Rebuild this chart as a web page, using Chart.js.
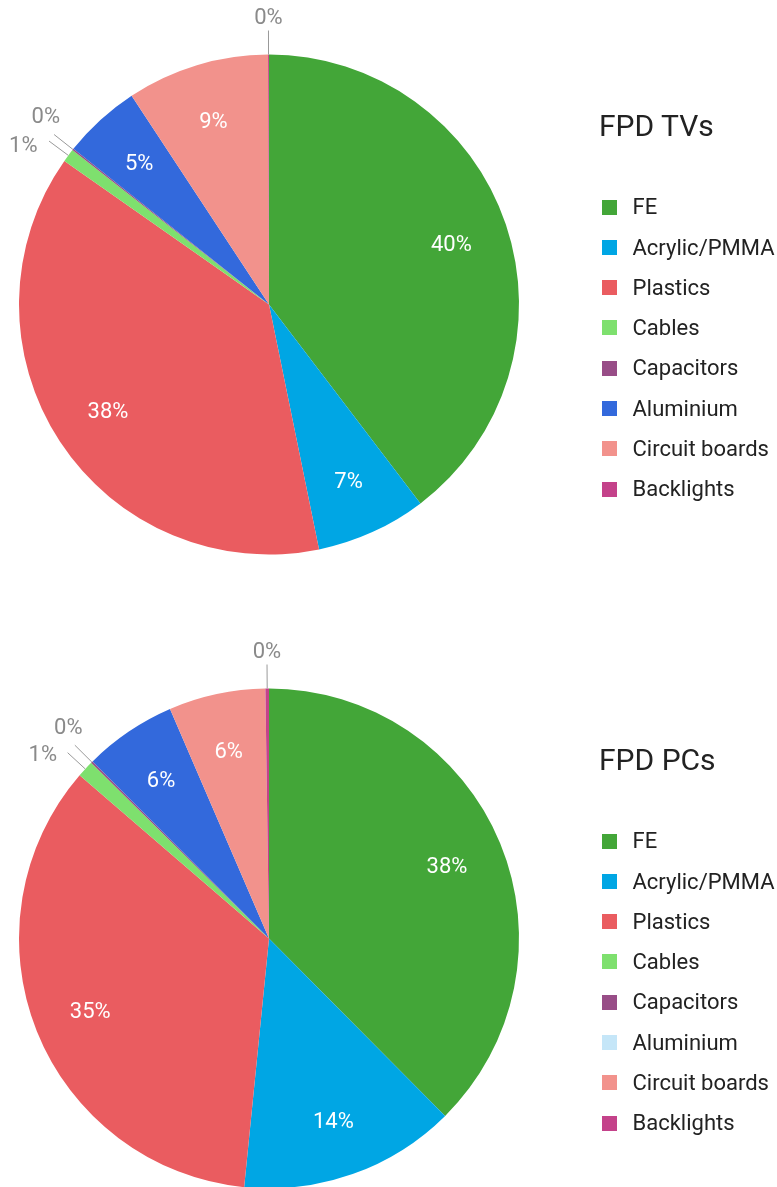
<!DOCTYPE html>
<html>
<head>
<meta charset="utf-8">
<script src="https://cdn.jsdelivr.net/npm/chart.js@4.4.1/dist/chart.umd.min.js"></script>
<style>
  html, body { margin:0; padding:0; background:#ffffff; }
  #page { position:relative; width:777px; height:1187px; overflow:hidden; background:#fff; font-family: Roboto, "Noto Sans", sans-serif; }
  .block { position:absolute; left:0; width:777px; height:634px; }
  .block canvas { position:absolute; left:0; top:0; }
  .ltitle { position:absolute; font-size:30px; line-height:36px; color:#222; white-space:nowrap; }
  .lbox { position:absolute; width:15px; height:15px; }
  .ltext { position:absolute; font-size:22px; line-height:26px; color:#222; white-space:nowrap; }
</style>
</head>
<body>
<div id="page">
  <div class="block" id="blockTV" style="top:0px;"><canvas id="tv" width="777" height="634"></canvas></div>
  <div class="block" id="blockPC" style="top:634px;"><canvas id="pc" width="777" height="634"></canvas></div>
</div>
<script>
// ---- data ----
const categories = ['FE', 'Acrylic/PMMA', 'Plastics', 'Cables', 'Capacitors', 'Aluminium', 'Circuit boards', 'Backlights'];
const tvTitle = 'FPD TVs';
const tvValues = [39.64, 7.15, 37.95, 0.86, 0.10, 5.04, 9.20, 0.06];
const pcTitle = 'FPD PCs';
const pcValues = [37.56, 14.03, 34.74, 1.08, 0.13, 5.99, 6.25, 0.23];

// ---- styles ----
const sliceColors = ['#43a638', '#00a6e4', '#ea5c60', '#7ee06e', '#984d87', '#3369dc', '#f2928c', '#c4428a'];
const pcLegendColors = ['#43a638', '#00a6e4', '#ea5c60', '#7ee06e', '#984d87', '#c5e6f8', '#f2928c', '#c4428a'];

const FONT = 'Roboto, "Noto Sans", sans-serif';

const labelPlugin = {
  id: 'pieLabels',
  afterDatasetsDraw(chart) {
    const ctx = chart.ctx;
    const ds = chart.data.datasets[0];
    const total = ds.data.reduce((a, b) => a + b, 0);
    const meta = chart.getDatasetMeta(0);
    const fs = 22;
    const capH = 0.711 * fs;
    ctx.save();
    ctx.font = fs + 'px ' + FONT;
    ctx.textAlign = 'center';
    ctx.textBaseline = 'alphabetic';
    const outside = [];
    meta.data.forEach((arc, i) => {
      const p = arc.getProps(['x', 'y', 'startAngle', 'endAngle', 'outerRadius'], true);
      const pct = ds.data[i] / total * 100;
      const text = Math.round(pct) + '%';
      const mid = (p.startAngle + p.endAngle) / 2;
      if (pct >= 2) {
        const r = p.outerRadius * 0.77;
        const x = p.x + Math.cos(mid) * r;
        const y = p.y + Math.sin(mid) * r;
        ctx.fillStyle = '#ffffff';
        ctx.fillText(text, x, y + capH / 2);
      } else {
        outside.push({ text, mid, p, ang: mid });
      }
    });
    // spread overlapping outside labels
    const minSep = 7.2 * Math.PI / 180;
    const bias = -0.2 * Math.PI / 180;
    outside.sort((a, b) => a.mid - b.mid);
    let groups = [];
    outside.forEach(o => {
      const g = groups[groups.length - 1];
      if (g && o.mid - g[g.length - 1].mid < minSep) g.push(o); else groups.push([o]);
    });
    groups.forEach(g => {
      if (g.length < 2) return;
      const m = g.reduce((s, o) => s + o.mid, 0) / g.length;
      g.forEach((o, k) => { o.ang = m + bias + (k - (g.length - 1) / 2) * minSep; });
    });
    outside.forEach(o => {
      const p = o.p;
      const R = p.outerRadius;
      const c = Math.cos(o.mid), s = Math.sin(o.mid);
      ctx.strokeStyle = '#999999';
      ctx.lineWidth = 1;
      ctx.beginPath();
      ctx.moveTo(p.x + c * R, p.y + s * R);
      ctx.lineTo(p.x + c * (R + 24), p.y + s * (R + 24));
      ctx.stroke();
      const ca = Math.cos(o.ang), sa = Math.sin(o.ang);
      const w = ctx.measureText(o.text).width;
      const ar = R + 31;
      const tx = p.x + ca * ar + ca * w / 2;
      const ty = p.y + sa * ar + sa * capH / 2;
      ctx.fillStyle = '#8a8a8a';
      ctx.fillText(o.text, tx, ty + capH / 2);
    });
    ctx.restore();
  }
};

function makePie(canvasId, values) {
  return new Chart(document.getElementById(canvasId), {
    type: 'pie',
    data: {
      labels: categories,
      datasets: [{
        data: values,
        backgroundColor: sliceColors,
        borderWidth: 0
      }]
    },
    options: {
      responsive: false,
      animation: false,
      devicePixelRatio: 1,
      events: [],
      layout: { padding: { left: 19, right: 258, top: 54.5, bottom: 79.5 } },
      plugins: { legend: { display: false }, title: { display: false }, tooltip: { enabled: false } }
    },
    plugins: [labelPlugin]
  });
}

function makeLegend(blockId, title, colors) {
  const block = document.getElementById(blockId);
  const t = document.createElement('div');
  t.className = 'ltitle';
  t.textContent = title;
  t.style.left = '599px';
  t.style.top = '107.7px';
  block.appendChild(t);
  categories.forEach((name, i) => {
    const cy = 207 + i * 40.3;
    const b = document.createElement('div');
    b.className = 'lbox';
    b.style.left = '601.5px';
    b.style.top = (cy - 7.5) + 'px';
    b.style.background = colors[i];
    block.appendChild(b);
    const tx = document.createElement('div');
    tx.className = 'ltext';
    tx.textContent = name;
    tx.style.left = '632.5px';
    tx.style.top = (cy - 12.8) + 'px';
    block.appendChild(tx);
  });
}

makePie('tv', tvValues);
makePie('pc', pcValues);
makeLegend('blockTV', tvTitle, sliceColors);
makeLegend('blockPC', pcTitle, pcLegendColors);
</script>
</body>
</html>
